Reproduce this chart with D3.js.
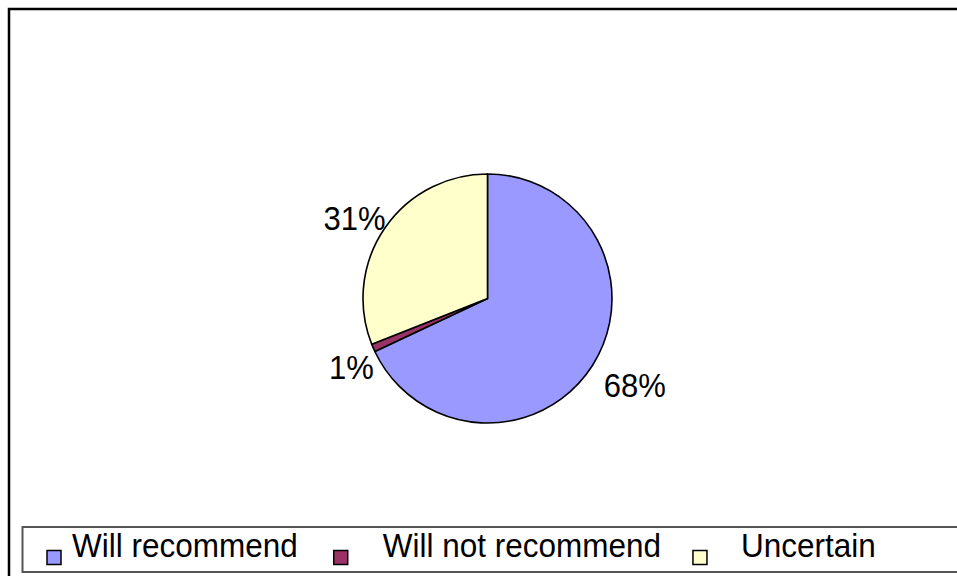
<!DOCTYPE html>
<html>
<head>
<meta charset="utf-8">
<script src="https://cdn.jsdelivr.net/npm/d3@7/dist/d3.min.js"></script>
<style>
  html, body { margin: 0; padding: 0; background: #fff; }
  svg { display: block; }
  text { font-family: "Liberation Sans", Arial, sans-serif; }
</style>
</head>
<body>
<svg id="chart" width="957" height="576"></svg>
<script>
// Survey answers: would respondents recommend it?
const categories = ["Will recommend", "Will not recommend", "Uncertain"];
const values = [68, 1, 31];
const percentLabels = ["68%", "1%", "31%"];
const colors = ["#9999FF", "#993366", "#FFFFCC"];

const W = 957, H = 576;
const svg = d3.select("#chart");

svg.append("rect").attr("width", W).attr("height", H).attr("fill", "#fff");

// Outer chart frame (runs off the right and bottom edges)
svg.append("rect")
  .attr("x", 9).attr("y", 9)
  .attr("width", W + 20).attr("height", H + 20)
  .attr("fill", "none").attr("stroke", "#000").attr("stroke-width", 2.5);

// Pie
const cx = 487.5, cy = 298.5, r = 124.5;
const pie = d3.pie().sort(null).value(d => d.value);
const arc = d3.arc().innerRadius(0).outerRadius(r);
const data = categories.map((c, i) => ({ name: c, value: values[i], label: percentLabels[i], color: colors[i] }));
const arcs = pie(data);

const g = svg.append("g").attr("transform", `translate(${cx},${cy})`);
g.selectAll("path.slice")
  .data(arcs)
  .join("path")
  .attr("class", "slice")
  .attr("d", arc)
  .attr("fill", d => d.data.color)
  .attr("stroke", "#000")
  .attr("stroke-width", 1.6)
  .attr("stroke-linejoin", "round");

// Percentage labels outside the pie, corner touching the mid-angle ray
const labelFont = 31;
const stretchY = 1.06;
const capH = labelFont * 0.716 * stretchY;
const labelR = r + 6;
const nudgeX = 6, nudgeY = 5;
g.selectAll("text.pct")
  .data(arcs)
  .join("text")
  .attr("class", "pct")
  .attr("font-size", labelFont)
  .attr("fill", "#000")
  .text(d => d.data.label)
  .each(function(d) {
    const a = (d.startAngle + d.endAngle) / 2;
    const dx = Math.sin(a), dy = -Math.cos(a);
    const px = dx * labelR + nudgeX, py = dy * labelR + nudgeY;
    const sel = d3.select(this);
    sel.attr("text-anchor", dx >= 0 ? "start" : "end")
       .attr("transform", `translate(${px},${dy >= 0 ? py + capH : py}) scale(1,${stretchY})`);
  });

// Legend box (runs off the right edge)
const legTop = 527, legH = 45;
svg.append("rect")
  .attr("x", 22.5).attr("y", legTop)
  .attr("width", W).attr("height", legH)
  .attr("fill", "#fff").attr("stroke", "#555").attr("stroke-width", 2);

const legendFont = 31.5;
const swatch = 14;
const baseline = 557;
const textGap = [25, 49, 48];
const itemGap = [0, 36, 32];
let x = 47;
data.forEach((d, i) => {
  x += itemGap[i];
  svg.append("rect")
    .attr("x", x).attr("y", 550.5)
    .attr("width", swatch).attr("height", swatch)
    .attr("fill", d.color).attr("stroke", "#000").attr("stroke-width", 1.5);
  const t = svg.append("text")
    .attr("transform", `translate(${x + textGap[i]},${baseline}) scale(1,1.07)`)
    .attr("font-size", legendFont).attr("fill", "#000")
    .text(d.name);
  x = x + textGap[i] + t.node().getComputedTextLength();
});
</script>
</body>
</html>
